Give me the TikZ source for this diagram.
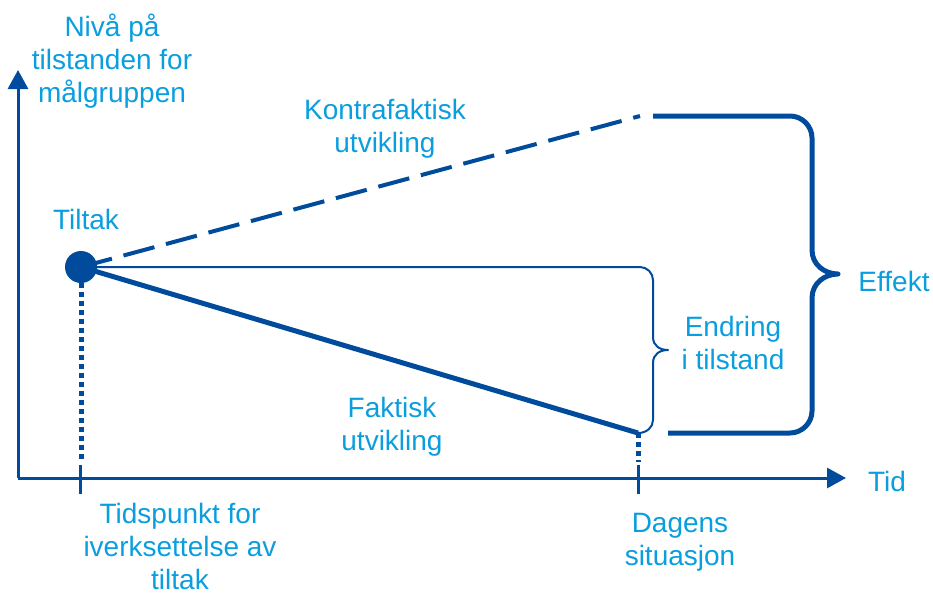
\documentclass[tikz,border=0pt]{standalone}
\usepackage{fontspec}
\setmainfont{Liberation Sans}
\usetikzlibrary{arrows.meta}
\definecolor{dblue}{RGB}{0,75,155}
\definecolor{lblue}{RGB}{10,158,222}
\begin{document}
\begin{tikzpicture}[x=1pt,y=-1pt,
  lab/.style={text=lblue,align=center,font=\fontsize{28}{33}\selectfont,inner sep=0pt},
  axis/.style={draw=dblue,line width=3pt,-{Triangle[length=19pt,width=20pt]}},
  tickmark/.style={draw=dblue,line width=3pt},
  dotline/.style={draw=dblue,line width=5pt,dash pattern=on 5pt off 4pt},
  thin/.style={draw=dblue,line width=2pt,line join=round},
  thick/.style={draw=dblue,line width=5pt,line join=round}]
\useasboundingbox (0,0) rectangle (933,592);
% axes
\coordinate (O) at (18,478);
\coordinate (Ytop) at (18,70);
\coordinate (Xend) at (846,478);
\draw[axis] (O) -- (Ytop);
\draw[axis] (O) -- (Xend);
% ticks
\coordinate (t1a) at (80,465); \coordinate (t1b) at (80,494);
\coordinate (t2a) at (638,465); \coordinate (t2b) at (638,494);
\draw[tickmark] (t1a) -- (t1b);
\draw[tickmark] (t2a) -- (t2b);
% dot
\node[circle,fill=dblue,minimum size=32pt,inner sep=0pt] (dot) at (81,267) {};
\coordinate (dotbot) at (81,283);
\coordinate (dotend) at (81,462);
\draw[dotline] (dotbot) -- (dotend);
% lines
\coordinate (kend) at (640,116);
\coordinate (fend) at (638,433);
\coordinate (fdot) at (638,462);
\draw[dotline] (fend) -- (fdot);
\draw[draw=dblue,line width=4pt,dash pattern=on 32pt off 12pt] (dot.center) -- (kend);
\draw[thick] (dot.center) -- (fend);
% small brace
\coordinate (s0) at (80,267);
\draw[thin] (s0) -- (640,267) .. controls (647,267) and (653,273) .. (653,280)
  -- (653,337) .. controls (653,346) and (660,350) .. (668,350)
  .. controls (660,350) and (653,354) .. (653,363) -- (653,420)
  .. controls (653,427) and (647,433) .. (fend);
% big brace
\draw[thick] (653,116) -- (790,116) .. controls (802,116) and (812,126) .. (812,138)
  -- (812,250) .. controls (812,265) and (825,274) .. (838,274)
  .. controls (825,274) and (812,283) .. (812,298) -- (812,411)
  .. controls (812,423) and (802,433) .. (790,433) -- (668,433);
% labels
\node[lab] (ylab) at (112,61) {Nivå på\\tilstanden for\\målgruppen};
\node[lab] (kon) at (385,129) {Kontrafaktisk\\utvikling};
\node[lab] (tiltak) at (86,219) {Tiltak};
\node[lab] (fak) at (392,427) {Faktisk\\utvikling};
\node[lab] (endr) at (733,343) {Endring\\i tilstand};
\node[lab] (eff) at (894,281) {Effekt};
\node[lab] (tid) at (887,481) {Tid};
\node[lab] (tp) at (180,546) {Tidspunkt for\\iverksettelse av\\tiltak};
\node[lab] (dag) at (680,542) {Dagens\\situasjon};
\end{tikzpicture}
\end{document}
